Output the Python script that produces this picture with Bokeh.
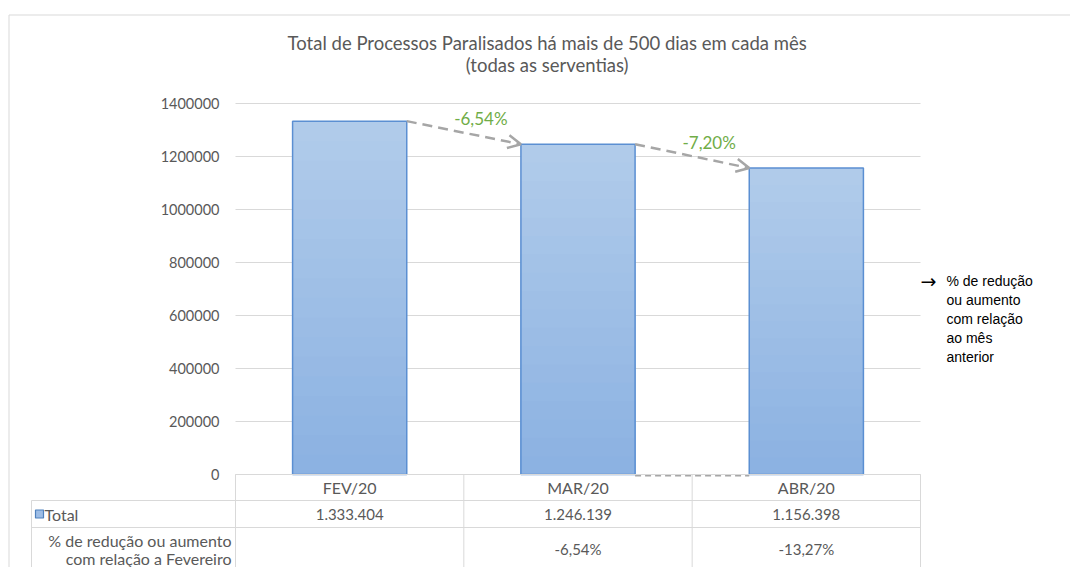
from bokeh.plotting import figure
from bokeh.models import Range1d, ColumnDataSource, Arrow, OpenHead
from bokeh.core.properties import value
from bokeh.embed import file_html
from bokeh.resources import INLINE

# ---------------- data ----------------
months = ["FEV/20", "MAR/20", "ABR/20"]
totals = [1333404, 1246139, 1156398]
change_prev = ["-6,54%", "-7,20%"]
change_feb = ["", "-6,54%", "-13,27%"]
y_ticks = [0, 200000, 400000, 600000, 800000, 1000000, 1200000, 1400000]
title_lines = ["Total de Processos  Paralisados há mais de 500 dias em cada mês",
               "(todas  as serventias)"]
side_note = "% de redução\nou aumento\ncom relação\nao mês\nanterior"
row_total = "Total"
row_pct = ["% de redução ou aumento", "com relação a Fevereiro"]

# ---------------- layout helpers (pixel -> data) ----------------
PX0, PX1 = 235.0, 920.0     # plot area left/right (page px)
PY0, PY1 = 474.0, 103.0     # y=0 and y=1400000 (page px)
CW = (PX1 - PX0) / len(months)
KY = 1400000.0 / (PY0 - PY1)

def X(px):
    return (px - PX0) / CW

def Y(py):
    return (PY0 - py) * KY

GREY_TXT = "#595959"
GRID = "#d9d9d9"
FONT = value("Lato")

p = figure(width=1070, height=567, output_backend="svg", toolbar_location=None,
           x_range=Range1d(X(0), X(1070)), y_range=Range1d(Y(567), Y(0)),
           x_axis_location=None, y_axis_location=None, title=None,
           min_border=0, outline_line_color=None)
p.min_border_left = p.min_border_right = p.min_border_top = p.min_border_bottom = 0
p.background_fill_color = "white"
p.border_fill_color = "white"
for g in p.grid:
    g.visible = False

n = len(months)
xc = [i + 0.5 for i in range(n)]

# outer border (top & left)
p.segment(x0=[X(8.5), X(8.5)], y0=[Y(14.5), Y(14.5)], x1=[X(1070), X(8.5)], y1=[Y(14.5), Y(567)],
          line_color="#d9d9d9", line_width=1)

# gridlines from ticks
p.segment(x0=[0] * len(y_ticks), x1=[n] * len(y_ticks), y0=y_ticks, y1=y_ticks,
          line_color=GRID, line_width=1)

# y tick labels
p.text(x=[X(219)] * len(y_ticks), y=y_ticks, text=[str(t) for t in y_ticks],
       text_align="right", text_baseline="middle", text_font=FONT,
       text_font_size="14.5px", text_color=GREY_TXT)

# bars with vertical gradient
top_c = (0xb0, 0xcb, 0xea)
bot_c = (0x8c, 0xb2, 0xe2)
N = 18
for k in range(N):
    f = 1 - k / N
    t = k / (N - 1)
    c = tuple(int(round(top_c[j] + (bot_c[j] - top_c[j]) * t)) for j in range(3))
    col = "#%02x%02x%02x" % c
    p.vbar(x=xc, top=[v * f for v in totals], bottom=0, width=0.5,
           fill_color=col, line_color=None)
p.vbar(x=xc, top=totals, bottom=0, width=0.5, fill_color=None,
       line_color="#5b8fd2", line_width=1.5)

# dashed arrows between bars
arr = ColumnDataSource(dict(
    xs=[i + 0.75 for i in range(n - 1)],
    ys=totals[:-1],
    xe=[i + 1.25 for i in range(n - 1)],
    ye=totals[1:],
))
p.add_layout(Arrow(end=OpenHead(size=13, line_color="#a6a6a6", line_width=2.5),
                   source=arr, x_start="xs", y_start="ys", x_end="xe", y_end="ye",
                   line_color="#a6a6a6", line_width=2.5, line_dash="10 6"))

# baseline dashed segment between MAR and ABR
p.segment(x0=[1.75], x1=[2.25], y0=[Y(475)], y1=[Y(475)],
          line_color="#a6a6a6", line_width=2, line_dash="6 4")

# change labels
p.text(x=[(i + 0.75 + i + 1.25) / 2 for i in range(n - 1)],
       y=[(totals[i] + totals[i + 1]) / 2 for i in range(n - 1)],
       text=change_prev, x_offset=17, y_offset=-14,
       text_align="center", text_baseline="middle", text_font=FONT,
       text_font_size="17px", text_color="#70ad47")

# title
p.text(x=[X(549)] * 2, y=[Y(42), Y(64)], text=title_lines,
       text_align="center", text_baseline="middle", text_font=FONT,
       text_font_size="18.5px", text_color=GREY_TXT)

# side note
p.text(x=[X(920)], y=[Y(280)], text=["\u2192"], text_align="left", text_baseline="middle",
       text_font=value("DejaVu Sans"), text_font_size="19px", text_color="black")
p.text(x=[X(946)], y=[Y(272)], text=[side_note], text_align="left", text_baseline="top",
       text_font=value("Liberation Sans"), text_font_size="14px", text_color="black",
       text_line_height=1.2)

# ---------------- data table ----------------
hx0 = [0, 1, 2, 3, X(31), 0, X(31), X(31)]
hy0 = [Y(474)] * 4 + [Y(500), Y(474), Y(500), Y(527)]
hx1 = [0, 1, 2, 3, X(31), n, n, n]
hy1 = [Y(567)] * 4 + [Y(567), Y(474), Y(500), Y(527)]
p.segment(x0=hx0, y0=hy0, x1=hx1, y1=hy1, line_color=GRID, line_width=1)

p.text(x=xc, y=[Y(487)] * n, text=months, text_align="center", text_baseline="middle",
       text_font=FONT, text_font_size="16px", text_color=GREY_TXT)
p.text(x=xc, y=[Y(513.5)] * n, text=[f"{v:,}".replace(",", ".") for v in totals],
       text_align="center", text_baseline="middle",
       text_font=FONT, text_font_size="15px", text_color=GREY_TXT)
p.text(x=xc, y=[Y(548)] * n, text=change_feb, text_align="center", text_baseline="middle",
       text_font=FONT, text_font_size="15px", text_color=GREY_TXT)

p.scatter(x=[X(39)], y=[Y(513.5)], marker="square", size=8,
          fill_color="#9dbde6", line_color="#4f81bd", line_width=1.2)
p.text(x=[X(44)], y=[Y(513.5)], text=[row_total], text_align="left", text_baseline="middle",
       text_font=FONT, text_font_size="16px", text_color=GREY_TXT)
p.text(x=[X(231)] * 2, y=[Y(540), Y(558)], text=row_pct, text_align="right",
       text_baseline="middle", text_font=FONT, text_font_size="16px", text_color=GREY_TXT)

open("out.html", "w").write(file_html(p, INLINE))
